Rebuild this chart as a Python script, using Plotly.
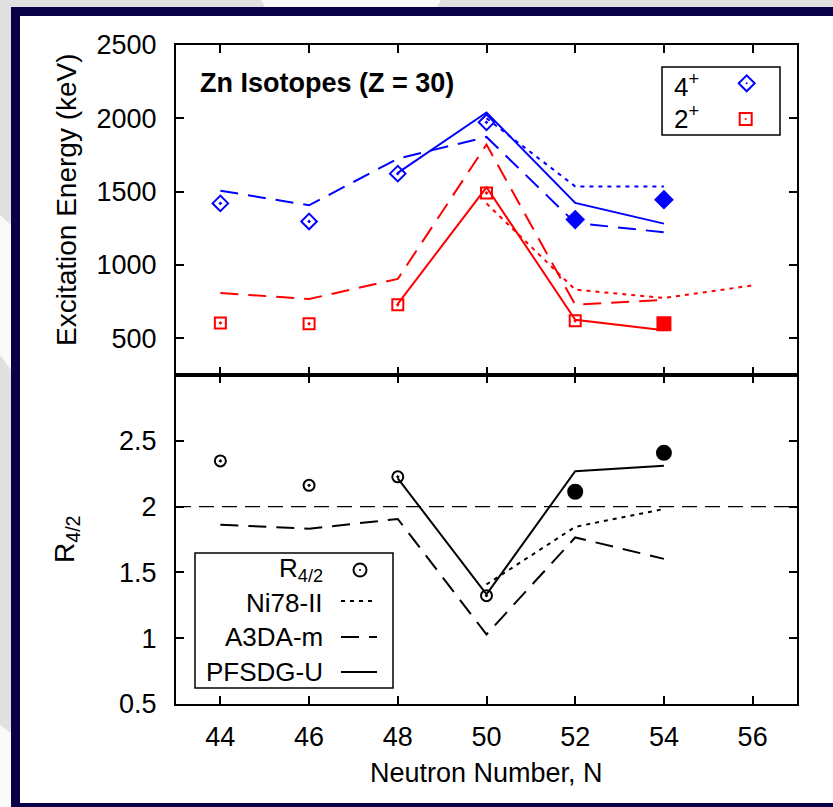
import numpy as np
import plotly.graph_objects as go

W, H = 833, 807

# ---- measured levels (keV) ----
N_exp = np.array([44, 46, 48, 50, 52, 54])
E4_exp = np.array([1420, 1297, 1623, 1973, 1310, 1445])
E2_exp = np.array([605, 600, 729, 1491, 620, 600])
filled_4 = np.array([False, False, False, False, True, True])
filled_2 = np.array([False, False, False, False, False, True])
filled_R = np.array([False, False, False, False, True, True])

# ---- shell-model calculations (keV) ----
N_ni78_4 = [50, 52, 54]
ni78_4 = [2000, 1536, 1536]
N_ni78_2 = [50, 52, 54, 56]
ni78_2 = [1420, 832, 775, 861]

N_a3da = [44, 46, 48, 50, 52, 54]
a3da_4 = [1507, 1407, 1725, 1873, 1287, 1223]
a3da_2 = [809, 768, 905, 1821, 729, 763]

N_pfsdg = [48, 50, 52, 54]
pfsdg_4 = [1628, 2040, 1423, 1282]
pfsdg_2 = [735, 1530, 627, 555]

x_ticks = [44, 46, 48, 50, 52, 54, 56]
e_ticks = [500, 1000, 1500, 2000, 2500]
r_ticks = [0.5, 1, 1.5, 2, 2.5]
r_ticktext = ["0.5", "1", "1.5", "2", "2.5"]

# ratios R4/2
R_exp = E4_exp / E2_exp
R_ni78 = np.array(ni78_4) / np.array(ni78_2[:len(ni78_4)])
R_a3da = np.array(a3da_4) / np.array(a3da_2)
R_pfsdg = np.array(pfsdg_4) / np.array(pfsdg_2)

BLUE, RED, BLACK = "#0000ff", "#ff0000", "#000000"
NAVY, GREY = "#0a0048", "#e0e0e0"
FONT = "Liberation Sans, Arial, Helvetica, sans-serif"
FS = 26
DOT = "4px,5px"
DASH = "18px,10px"


def fx(p):
    return p / W


def fy(p):
    return 1 - p / H


fig = go.Figure()


def line(x, y, color, dash, xa="x", ya="y"):
    fig.add_trace(go.Scatter(x=x, y=y, mode="lines", xaxis=xa, yaxis=ya,
                             line=dict(color=color, width=2, dash=dash),
                             hoverinfo="skip"))


def pts(x, y, symbol, color, size, xa="x", ya="y"):
    fig.add_trace(go.Scatter(x=x, y=y, mode="markers", xaxis=xa, yaxis=ya,
                             marker=dict(symbol=symbol, size=size, color=color,
                                         line=dict(color=color, width=2))))


# upper panel: excitation energies
line(N_ni78_4, ni78_4, BLUE, DOT)
line(N_ni78_2, ni78_2, RED, DOT)
line(N_a3da, a3da_4, BLUE, DASH)
line(N_a3da, a3da_2, RED, DASH)
line(N_pfsdg, pfsdg_4, BLUE, "solid")
line(N_pfsdg, pfsdg_2, RED, "solid")

pts(N_exp[~filled_4], E4_exp[~filled_4], "diamond-open-dot", BLUE, 12)
pts(N_exp[filled_4], E4_exp[filled_4], "diamond", BLUE, 13)
pts(N_exp[~filled_2], E2_exp[~filled_2], "square-open-dot", RED, 11)
pts(N_exp[filled_2], E2_exp[filled_2], "square", RED, 13)

# lower panel: R4/2
line(N_ni78_4, R_ni78, BLACK, DOT, "x2", "y2")
line(N_a3da, R_a3da, BLACK, DASH, "x2", "y2")
line(N_pfsdg, R_pfsdg, BLACK, "solid", "x2", "y2")
pts(N_exp[~filled_R], R_exp[~filled_R], "circle-open-dot", BLACK, 11, "x2", "y2")
pts(N_exp[filled_R], R_exp[filled_R], "circle", BLACK, 14, "x2", "y2")

axis_common = dict(showgrid=False, zeroline=False, showline=True, mirror="ticks",
                   linecolor=BLACK, linewidth=2, ticks="inside", ticklen=8,
                   tickwidth=1.5, tickcolor=BLACK, automargin=False,
                   tickfont=dict(family=FONT, size=27, color=BLACK))

x_dom = [fx(176), fx(797)]
fig.update_layout(
    template="none",
    width=W, height=H,
    margin=dict(l=0, r=0, t=0, b=0, pad=0, autoexpand=False),
    paper_bgcolor=GREY, plot_bgcolor="white", showlegend=False,
    font=dict(family=FONT, size=FS, color=BLACK),
    xaxis=dict(domain=x_dom, range=[43, 57], tickvals=x_ticks, anchor="y",
               showticklabels=False, **axis_common),
    yaxis=dict(domain=[fy(375), fy(45)], range=[250, 2500], tickvals=e_ticks,
               anchor="x", ticklabelstandoff=12, **axis_common),
    xaxis2=dict(domain=x_dom, range=[43, 57], tickvals=x_ticks, anchor="y2",
                ticklabelstandoff=8, **axis_common),
    yaxis2=dict(domain=[fy(704), fy(375)], range=[0.5, 3.0], tickvals=r_ticks,
                ticktext=r_ticktext, anchor="x2", ticklabelstandoff=12,
                **axis_common),
)

shapes = []
# slide background: grey with light diagonal bands, navy frame, white panel
for path in [
    f"M {fx(261)},{fy(0)} L {fx(441)},{fy(0)} L {fx(437)},{fy(7)} L {fx(265)},{fy(7)} Z",
    f"M {fx(0)},{fy(215)} L {fx(11)},{fy(225)} L {fx(11)},{fy(370)} L {fx(0)},{fy(355)} Z",
    f"M {fx(0)},{fy(725)} L {fx(11)},{fy(733)} L {fx(11)},{fy(807)} L {fx(0)},{fy(807)} Z",
]:
    shapes.append(dict(type="path", xref="paper", yref="paper", path=path,
                       fillcolor="#fafafa", line=dict(width=0), layer="below"))
shapes.append(dict(type="rect", xref="paper", yref="paper", x0=fx(11), x1=1,
                   y0=fy(7), y1=0, fillcolor=NAVY, line=dict(width=0),
                   layer="below"))
shapes.append(dict(type="rect", xref="paper", yref="paper", x0=fx(20), x1=1,
                   y0=fy(16), y1=fy(803), fillcolor="white", line=dict(width=0),
                   layer="below"))

# R4/2 = 2 reference line
shapes.append(dict(type="line", xref="x2 domain", yref="y2", x0=0, x1=1, y0=2, y1=2,
                   line=dict(color=BLACK, width=1.2, dash="15px,8px")))

# key for the upper panel
shapes.append(dict(type="rect", xref="paper", yref="paper", x0=fx(662), x1=fx(780),
                   y0=fy(67), y1=fy(135), line=dict(color=BLACK, width=1.5),
                   fillcolor="white"))
cx, cy, r = 746.7, 83.3, 8
shapes.append(dict(type="path", xref="paper", yref="paper",
                   path=f"M {fx(cx - r)},{fy(cy)} L {fx(cx)},{fy(cy - r)} L {fx(cx + r)},{fy(cy)} L {fx(cx)},{fy(cy + r)} Z",
                   line=dict(color=BLUE, width=2)))
shapes.append(dict(type="circle", xref="paper", yref="paper", x0=fx(cx - 1), x1=fx(cx + 1),
                   y0=fy(cy - 1), y1=fy(cy + 1), fillcolor=BLUE, line=dict(width=0)))
cx, cy, r = 745.7, 119, 6
shapes.append(dict(type="rect", xref="paper", yref="paper", x0=fx(cx - r), x1=fx(cx + r),
                   y0=fy(cy - r), y1=fy(cy + r), line=dict(color=RED, width=2)))
shapes.append(dict(type="circle", xref="paper", yref="paper", x0=fx(cx - 1), x1=fx(cx + 1),
                   y0=fy(cy - 1), y1=fy(cy + 1), fillcolor=RED, line=dict(width=0)))

# key for the lower panel
shapes.append(dict(type="rect", xref="paper", yref="paper", x0=fx(195), x1=fx(393),
                   y0=fy(553), y1=fy(688), line=dict(color=BLACK, width=1.5),
                   fillcolor="white"))
cx, cy, r = 360, 570, 6.5
shapes.append(dict(type="circle", xref="paper", yref="paper", x0=fx(cx - r), x1=fx(cx + r),
                   y0=fy(cy - r), y1=fy(cy + r), line=dict(color=BLACK, width=2)))
shapes.append(dict(type="circle", xref="paper", yref="paper", x0=fx(cx - 1), x1=fx(cx + 1),
                   y0=fy(cy - 1), y1=fy(cy + 1), fillcolor=BLACK, line=dict(width=0)))
for yy, dash in [(601, DOT), (637, DASH), (672, "solid")]:
    shapes.append(dict(type="line", xref="paper", yref="paper", x0=fx(341), x1=fx(377),
                       y0=fy(yy), y1=fy(yy), line=dict(color=BLACK, width=2, dash=dash)))

fig.update_layout(shapes=shapes)

ann = []


def text(t, x, y, xanchor="center", yanchor="middle", angle=0, size=FS):
    ann.append(dict(text=t, x=fx(x), y=fy(y), xref="paper", yref="paper",
                    xanchor=xanchor, yanchor=yanchor, textangle=angle,
                    showarrow=False, font=dict(family=FONT, size=size, color=BLACK)))


text("<b>Zn Isotopes (Z = 30)</b>", 198, 83, xanchor="left", size=27)
text("4<sup>+</sup>", 701, 85, xanchor="right")
text("2<sup>+</sup>", 701, 117, xanchor="right")
text("R<sub>4/2</sub>", 325, 569, xanchor="right")
text("Ni78-II", 325, 603, xanchor="right")
text("A3DA-m", 325, 637, xanchor="right")
text("PFSDG-U", 325, 672, xanchor="right")
text("Excitation Energy (keV)", 66, 200, angle=-90, size=28)
text("R<sub>4/2</sub>", 66, 540, angle=-90, size=28)
text("Neutron Number, N", 486, 773, size=27)

fig.update_layout(annotations=ann)

fig.write_html("out.html")
